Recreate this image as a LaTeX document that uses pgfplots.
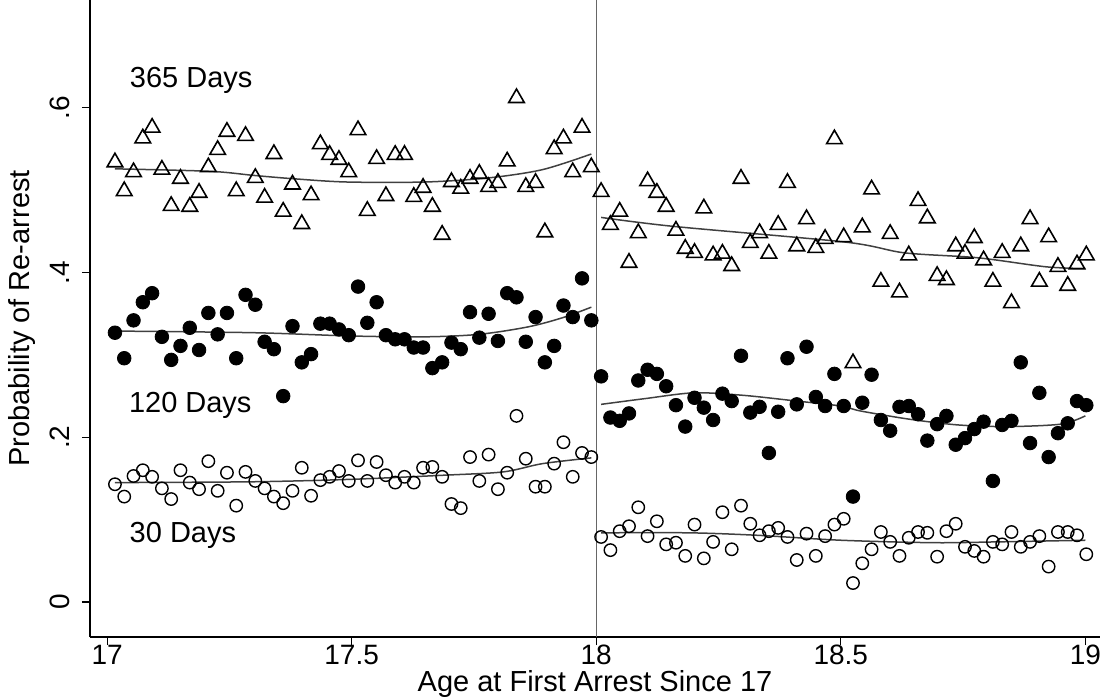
\documentclass[border=0pt]{standalone}
\usepackage{pgfplots}
\pgfplotsset{compat=1.18}
\usepackage{pgfplotstable}
\usepackage{fontspec}
\setmainfont{Liberation Sans}

% weekly bins, before the 18th birthday: t = 365 days, f = 120 days, o = 30 days
\pgfplotstableread{
x      t     f     o
17.016 .534 .327 .143
17.035 .499 .296 .128
17.054 .522 .342 .153
17.073 .563 .364 .160
17.092 .576 .375 .152
17.112 .525 .322 .138
17.131 .481 .294 .125
17.150 .514 .311 .160
17.169 .480 .333 .145
17.188 .497 .306 .137
17.207 .528 .351 .171
17.226 .549 .325 .135
17.245 .571 .351 .157
17.264 .499 .296 .117
17.283 .566 .373 .158
17.303 .515 .361 .147
17.322 .491 .316 .138
17.341 .544 .307 .128
17.360 .474 .250 .120
17.379 .507 .335 .135
17.398 .459 .291 .163
17.417 .494 .301 .129
17.436 .556 .338 .148
17.455 .543 .338 .152
17.474 .537 .331 .159
17.494 .522 .324 .147
17.513 .573 .383 .172
17.532 .475 .339 .147
17.551 .538 .364 .170
17.570 .493 .324 .154
17.589 .543 .319 .145
17.608 .543 .319 .152
17.627 .492 .309 .145
17.646 .503 .309 .163
17.665 .480 .284 .164
17.685 .446 .291 .152
17.704 .510 .315 .119
17.723 .502 .307 .114
17.742 .514 .352 .176
17.761 .520 .321 .147
17.780 .504 .350 .179
17.799 .509 .317 .137
17.818 .535 .375 .157
17.837 .612 .370 .226
17.856 .504 .316 .174
17.876 .509 .346 .140
17.895 .449 .291 .140
17.914 .550 .311 .168
17.933 .563 .360 .194
17.952 .522 .346 .152
17.971 .576 .393 .181
17.990 .528 .342 .176
}\before

% after the 18th birthday
\pgfplotstableread{
x      t     f     o
18.010 .498 .274 .079
18.029 .458 .224 .063
18.048 .474 .220 .086
18.067 .412 .229 .092
18.086 .448 .269 .115
18.105 .511 .282 .080
18.124 .497 .277 .098
18.143 .480 .262 .070
18.163 .451 .239 .072
18.182 .429 .213 .056
18.201 .424 .248 .094
18.220 .478 .236 .053
18.239 .421 .221 .073
18.258 .423 .253 .109
18.277 .408 .244 .064
18.296 .514 .299 .117
18.315 .436 .230 .095
18.334 .448 .237 .081
18.353 .423 .181 .086
18.372 .458 .231 .090
18.391 .509 .296 .079
18.410 .432 .240 .051
18.430 .465 .310 .083
18.449 .430 .249 .056
18.468 .441 .238 .080
18.487 .562 .277 .094
18.506 .443 .238 .101
18.525 .290 .128 .023
18.544 .455 .242 .047
18.563 .501 .276 .064
18.582 .389 .221 .085
18.601 .447 .208 .073
18.620 .376 .237 .056
18.639 .421 .238 .078
18.658 .487 .228 .085
18.677 .466 .196 .084
18.697 .396 .216 .055
18.716 .391 .226 .086
18.735 .432 .191 .095
18.754 .423 .199 .067
18.773 .442 .210 .062
18.792 .415 .219 .055
18.811 .389 .147 .073
18.830 .424 .215 .070
18.849 .363 .220 .085
18.868 .432 .291 .067
18.887 .465 .193 .073
18.906 .389 .254 .080
18.925 .443 .176 .043
18.944 .407 .205 .085
18.964 .384 .217 .085
18.983 .410 .244 .081
19.002 .421 .239 .058
}\after

\begin{document}
\begin{tikzpicture}[font=\fontsize{14.5}{17}\selectfont]
\path[use as bounding box] (-45pt,-30.5pt) rectangle (505pt,318.5pt);
\begin{axis}[
  scale only axis,
  width=505pt, height=318.5pt,
  xmin=16.965, xmax=19.03,
  ymin=-0.0425, ymax=0.731,
  axis x line*=bottom, axis y line*=left,
  axis line style={black, line width=0.6pt},
  tick style={black, line width=0.6pt},
  tick align=outside, major tick length=4pt,
  xtick={17,17.5,18,18.5,19},
  xticklabels={17,17.5,18,18.5,19},
  ytick={0,0.2,0.4,0.6},
  yticklabels={0,.2,.4,.6},
  ticklabel style={font=\fontsize{14}{16}\selectfont},
  xticklabel style={anchor=north, inner xsep=0pt, inner ysep=0pt},
  yticklabel style={rotate=90, anchor=south, inner xsep=0pt, inner ysep=6pt},
  xlabel={Age at First Arrest Since 17},
  ylabel={Probability of Re-arrest},
  xlabel style={at={(axis description cs:0.5,-0.0745)}, anchor=center, inner sep=0pt},
  ylabel style={at={(axis description cs:-0.0673,0.5)}, anchor=center, inner sep=0pt},
  tri/.style={only marks, mark=triangle, mark size=4.5pt,
    mark options={draw=black, line width=0.8pt, fill=none}},
  dot/.style={only marks, mark=*, mark size=3.4pt,
    mark options={draw=black, fill=black}},
  ring/.style={only marks, mark=o, mark size=3.1pt,
    mark options={draw=black, line width=0.7pt}},
  fit/.style={no marks, black!75, line width=0.75pt},
]
% cutoff at 18
\addplot[black!60, line width=0.6pt] coordinates {(18,-0.0425) (18,0.731)};

\addplot[tri]  table[x=x, y=t] {\before};
\addplot[tri]  table[x=x, y=t] {\after};
\addplot[dot]  table[x=x, y=f] {\before};
\addplot[dot]  table[x=x, y=f] {\after};
\addplot[ring] table[x=x, y=o] {\before};
\addplot[ring] table[x=x, y=o] {\after};

% local fits
\addplot[fit, smooth] coordinates {(17.016,.526) (17.21,.523) (17.30,.518) (17.38,.514)
  (17.49,.510) (17.65,.510) (17.78,.515) (17.89,.525) (17.99,.544)};
\addplot[fit, smooth] coordinates {(18.010,.467) (18.16,.456) (18.51,.437) (18.63,.424)
  (18.78,.418) (18.92,.407) (19.00,.405)};
\addplot[fit, smooth] coordinates {(17.016,.329) (17.30,.327) (17.50,.323) (17.65,.322)
  (17.76,.325) (17.86,.334) (17.93,.345) (17.99,.358)};
\addplot[fit, smooth] coordinates {(18.010,.240) (18.10,.247) (18.20,.254) (18.30,.251)
  (18.41,.244) (18.50,.238) (18.54,.232) (18.64,.222) (18.74,.215) (18.84,.213)
  (18.95,.216) (19.00,.226)};
\addplot[fit, smooth] coordinates {(17.016,.145) (17.30,.146) (17.50,.149) (17.69,.154)
  (17.81,.158) (17.89,.168) (17.99,.175)};
\addplot[fit, smooth] coordinates {(18.010,.084) (18.19,.084) (18.33,.081) (18.50,.075)
  (18.69,.072) (18.82,.073) (19.00,.075)};

\node at (axis cs:17.172,0.634) {365 Days};
\node at (axis cs:17.170,0.239) {120 Days};
\node at (axis cs:17.155,0.081) {30 Days};
\end{axis}
\end{tikzpicture}
\end{document}
